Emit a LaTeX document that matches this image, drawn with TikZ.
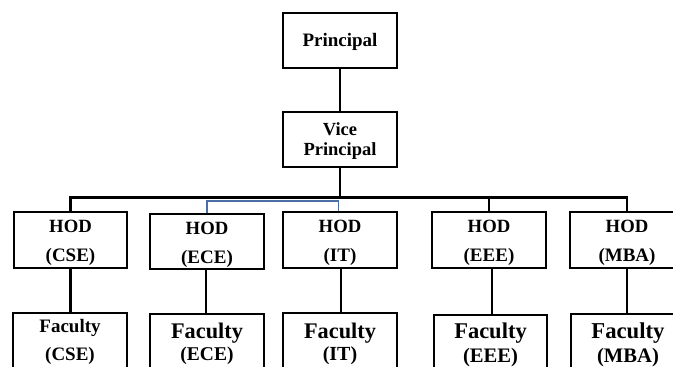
\documentclass[tikz,border=0pt]{standalone}
\usepackage{fontspec}
\setmainfont{Liberation Serif}
\definecolor{linkblue}{RGB}{74,110,165}
\tikzset{
  box/.style={draw=black, line width=2.6pt, rectangle, inner sep=0pt,
              minimum width=114pt, minimum height=56pt},
  facbox/.style={box, minimum height=80pt},
  lbl/.style={anchor=base, inner sep=0pt, font=\bfseries},
  conn/.style={draw=black, line width=2.5pt},
  blueconn/.style={draw=linkblue, line width=1.8pt}
}
\begin{document}
\begin{tikzpicture}[x=1pt,y=-1pt]
\clip (0,0) rectangle (673,367);
\fill[white] (0,0) rectangle (673,367);

% top of the chart
\node[box, minimum height=55pt] (pr) at (340,40.5) {};
\node[box, minimum height=55pt] (vp) at (340,139.5) {};
\node[lbl, font=\fontsize{19}{19}\bfseries\selectfont] (prT) at (340,46) {Principal};
\node[lbl, font=\fontsize{18.5}{18.5}\bfseries\selectfont] (vpT1) at (340,135) {Vice};
\node[lbl, font=\fontsize{18.5}{18.5}\bfseries\selectfont] (vpT2) at (340,155) {Principal};

% heads of department
\node[box, minimum width=113pt] (hcse) at (70.5,240) {};
\node[box, minimum height=55pt] (hece) at (207,241.5) {};
\node[box] (hit) at (340,240) {};
\node[box] (heee) at (489,240) {};
\node[box] (hmba) at (627,240) {};

% faculty boxes (run off the lower edge)
\node[facbox] (fcse) at (70,353) {};
\node[facbox] (fece) at (207,354) {};
\node[facbox] (fit) at (340,353) {};
\node[facbox, minimum width=113pt] (feee) at (490.5,355) {};
\node[facbox] (fmba) at (628,354) {};

% connectors
\coordinate (busL) at (70.5,197.5);
\coordinate (busR) at (627,197.5);
\coordinate (bj) at (338.5,200.8);
\draw[conn] (pr.south) -- (vp.north);
\draw[conn] (vp.south) -- (vp.south |- busL);
\draw[conn, line cap=rect] (busL) -- (busR);
\draw[conn] (busL) -- (hcse.north);
\draw[conn] (heee.north |- busL) -- (heee.north);
\draw[conn] (busR) -- (hmba.north);
\draw[blueconn] (hece.north) |- (bj) -- (bj |- hit.north);

\draw[conn] (hcse.south) -- (hcse.south |- fcse.north);
\draw[conn] (fece.north -| 206,0) -- (hece.south -| 206,0);
\draw[conn] (fit.north -| 341,0) -- (hit.south -| 341,0);
\draw[conn] (feee.north -| 492,0) -- (heee.south -| 492,0);
\draw[conn] (hmba.south) -- (hmba.south |- fmba.north);

% department labels
\foreach \nm/\cx/\dy/\dept in {a/70.5/0/CSE, b/207/2.5/ECE, c/340/0/IT, d/489/0/EEE, e/627/0/MBA}{
  \node[lbl, font=\fontsize{18.7}{18.7}\bfseries\selectfont] (hodT\nm) at (\cx,232+\dy) {HOD};
  \node[lbl, font=\fontsize{19}{19}\bfseries\selectfont] (hodD\nm) at (\cx,261+\dy) {(\dept)};
}

\node[lbl, font=\fontsize{19}{19}\bfseries\selectfont] (facTa) at (70,332) {Faculty};
\node[lbl, font=\fontsize{19}{19}\bfseries\selectfont] (facDa) at (70,360) {(CSE)};
\node[lbl, font=\fontsize{22.3}{22.3}\bfseries\selectfont] (facTb) at (207,338) {Faculty};
\node[lbl, font=\fontsize{19.5}{19.5}\bfseries\selectfont] (facDb) at (207,360) {(ECE)};
\node[lbl, font=\fontsize{22.3}{22.3}\bfseries\selectfont] (facTc) at (340,338) {Faculty};
\node[lbl, font=\fontsize{20}{20}\bfseries\selectfont] (facDc) at (340,360) {(IT)};
\node[lbl, font=\fontsize{22.5}{22.5}\bfseries\selectfont] (facTd) at (490.5,338) {Faculty};
\node[lbl, font=\fontsize{20.6}{20.6}\bfseries\selectfont] (facDd) at (490.5,362) {(EEE)};
\node[lbl, font=\fontsize{22.7}{22.7}\bfseries\selectfont] (facTe) at (628,338) {Faculty};
\node[lbl, font=\fontsize{20.6}{20.6}\bfseries\selectfont] (facDe) at (628,362) {(MBA)};
\end{tikzpicture}
\end{document}
